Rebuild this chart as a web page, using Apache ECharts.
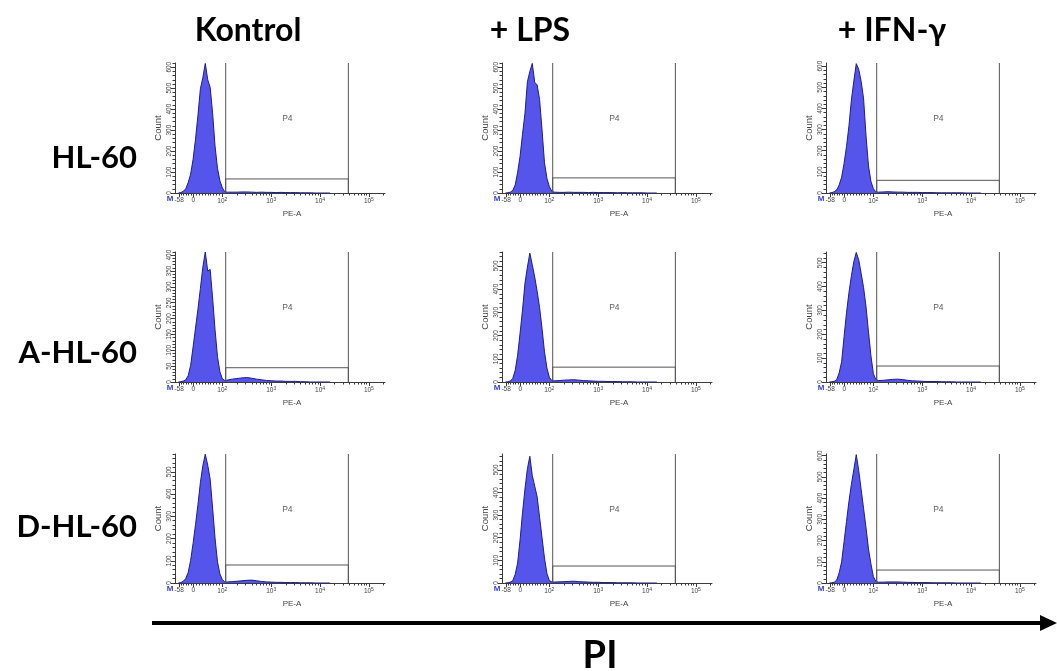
<!DOCTYPE html>
<html><head><meta charset="utf-8">
<script src="https://cdn.jsdelivr.net/npm/echarts@6/dist/echarts.min.js"></script>
<style>html,body{margin:0;padding:0;background:#fff}#c{width:1057px;height:671px}</style>
</head><body><div id="c"></div>
<script>
// ---------------- DATA ----------------
const colLabels = ['Kontrol', '+ LPS', '+ IFN-γ'];
const rowLabels = ['HL-60', 'A-HL-60', 'D-HL-60'];
const axisTitle = 'PI';
const gateName = 'P4';
// histogram bin centres on the biexponential PE-A display scale (decades)
const binPos = [1.10,1.15,1.20,1.25,1.30,1.35,1.40,1.45,1.50,1.55,1.60,1.65,1.70,1.75,1.80,1.85,1.90,1.95,2.00,2.05,2.10,
                2.2,2.3,2.4,2.5,2.6,2.7,2.8,2.9,3.0,3.1,3.2,3.3,3.4,3.5,3.6,3.7,3.8,3.9,4.0,4.1,4.2];
// counts per bin
const hl60_kontrol  = [0,2,8,20,50,90,160,257,371,497,550,618,540,504,381,224,118,58,24,6,4, 4,4,5,5,4,3,4,3,3,2,3,2,2,2,1,1,1,0,0,0,0];
const hl60_lps      = [0,1,4,12,38,98,175,280,380,530,580,618,528,515,445,300,144,70,30,8,4, 3,3,4,3,3,3,2,3,2,2,2,2,1,2,1,1,1,1,0,0,0];
const hl60_ifn      = [0,2,6,15,38,75,140,220,318,440,530,612,585,528,445,270,128,55,20,6,4, 5,6,5,4,4,3,3,3,2,2,2,1,1,1,1,1,1,0,0,0,0];
const ahl60_kontrol = [0,1,3,7,20,52,110,170,230,295,362,410,350,355,265,165,80,32,10,5,6, 9,11,13,14,12,9,7,5,4,3,3,2,2,2,1,1,0,0,0,0,0];
const ahl60_lps     = [0,1,4,15,50,115,210,310,425,495,555,505,452,390,320,230,130,60,20,6,5, 6,8,9,10,8,6,5,4,3,3,2,2,2,1,1,1,0,0,0,0,0];
const ahl60_ifn     = [0,1,3,10,38,85,190,290,375,445,505,543,512,455,395,315,210,110,35,10,6, 7,9,11,12,10,7,5,4,3,2,2,2,1,1,1,0,0,0,0,0,0];
const dhl60_kontrol = [0,2,8,20,47,101,178,262,353,452,527,579,530,467,337,202,95,40,15,5,5, 6,8,10,12,13,10,7,5,4,3,3,2,2,2,1,1,1,0,0,0,0];
const dhl60_lps     = [0,1,4,10,38,88,190,310,415,505,560,475,428,380,290,200,110,42,10,5,4, 5,6,7,8,6,5,4,3,3,2,2,2,1,1,1,1,0,0,0,0,0];
const dhl60_ifn     = [0,1,4,14,48,100,195,290,385,465,535,605,530,440,350,260,160,90,30,8,4, 4,5,5,5,4,3,3,2,2,2,1,1,1,1,1,0,0,0,0,0,0];
const histograms = [[hl60_kontrol, hl60_lps, hl60_ifn],[ahl60_kontrol, ahl60_lps, ahl60_ifn],[dhl60_kontrol, dhl60_lps, dhl60_ifn]];
// count axis per panel
const yMax  = [[620,620,615],[410,560,545],[580,570,608]];
const yStep = [[100,100,100],[50,100,100],[100,100,100]];
// P4 gate (PE-A values) and its drawn height (count)
const gateLow = 117, gateHigh = 38000;
const gateHeight = [[67,72,60],[45,64,67],[81,75,61]];
// PE-A tick labels
const xTickValues = [-58, 0, 100, 1000, 10000, 100000];
const xTickBase   = ['-58', '0', '10', '10', '10', '10'];
const xTickExp    = ['', '', '2', '3', '4', '5'];
const xMinorValues = [-50,-40,-30,-20,-10,10,20,30,40,50,60,70,80,90,
  200,300,400,500,600,700,800,900,2000,3000,4000,5000,6000,7000,8000,9000,
  20000,30000,40000,50000,60000,70000,80000,90000,200000];

// biexponential display transform of PE-A
function toDisp(v){
  if (v >= 100) return Math.log10(v);
  if (v >= 0) return 1.405 + v * 0.00595;
  return 1.405 + v * 0.005;
}

// ---------------- LAYOUT ----------------
const colLeft = [175, 502, 826];
const rowTop = [63, 252, 454];
const rowH = [130, 130, 129];
const plotW = 210;
const xMin = 1.03, xMax = 5.33;
const fillColor = '#5555ec', edgeColor = '#1d1d8a', axisColor = '#3a3a3a';
const smallFont = 'Liberation Sans';

const grids = [], xAxes = [], yAxes = [], series = [], graphics = [];
const majorX = xTickValues.map(toDisp);
const minorX = xMinorValues.map(toDisp);

for (let r = 0; r < 3; r++) {
  for (let c = 0; c < 3; c++) {
    const g = grids.length;
    grids.push({left: colLeft[c], top: rowTop[r], width: plotW, height: rowH[r]});
    const ym = yMax[r][c], st = yStep[r][c];
    const yMajor = [], yMinor = [];
    for (let v = 0; v <= ym; v += st) yMajor.push(v);
    for (let v = st/5; v <= ym; v += st/5) if (Math.abs(v/st - Math.round(v/st)) > 1e-6) yMinor.push(v);

    xAxes.push({
      gridIndex: g, type: 'value', min: xMin, max: xMax, position: 'bottom',
      axisLine: {show: true, lineStyle: {color: axisColor, width: 1}},
      axisTick: {show: true, customValues: majorX, length: 4, lineStyle: {color: axisColor}},
      splitLine: {show: false},
      axisLabel: {
        show: true, customValues: majorX, margin: 4, color: '#444', fontFamily: smallFont, fontSize: 6.5,
        formatter: function (val) {
          let best = 0, bd = 1e9;
          majorX.forEach((m, i) => { const d = Math.abs(m - val); if (d < bd) { bd = d; best = i; } });
          return xTickExp[best] ? xTickBase[best] + '{s|' + xTickExp[best] + '}' : xTickBase[best];
        },
        rich: {s: {fontSize: 5, fontFamily: smallFont, color: '#444', verticalAlign: 'top', padding: [0, 0, 4, 0]}}
      },
      name: 'PE-A', nameLocation: 'middle', nameGap: 17,
      nameTextStyle: {fontFamily: smallFont, fontSize: 8, color: '#444', padding: [0, 0, 0, 24]}
    });
    xAxes.push({
      gridIndex: g, type: 'value', min: xMin, max: xMax, position: 'bottom',
      axisLine: {show: false},
      axisTick: {show: true, customValues: minorX, length: 2.5, lineStyle: {color: axisColor}},
      axisLabel: {show: false}, splitLine: {show: false}
    });
    yAxes.push({
      gridIndex: g, type: 'value', min: 0, max: ym, position: 'left',
      axisLine: {show: true, lineStyle: {color: axisColor, width: 1}},
      axisTick: {show: true, customValues: yMajor, length: 4, lineStyle: {color: axisColor}},
      axisLabel: {show: true, customValues: yMajor, rotate: 90, margin: 2, fontFamily: smallFont, fontSize: 6.5, color: '#444'},
      splitLine: {show: false},
      name: 'Count', nameLocation: 'middle', nameGap: 12,
      nameTextStyle: {fontFamily: smallFont, fontSize: 9.5, color: '#444'}
    });
    yAxes.push({
      gridIndex: g, type: 'value', min: 0, max: ym, position: 'left',
      axisLine: {show: false},
      axisTick: {show: true, customValues: yMinor, length: 2.5, lineStyle: {color: axisColor}},
      axisLabel: {show: false}, splitLine: {show: false}
    });
    const xi = 2 * g, yi = 2 * g;
    const hist = histograms[r][c];
    series.push({
      type: 'line', xAxisIndex: xi, yAxisIndex: yi, silent: true,
      data: binPos.map((d, k) => [d, hist[k]]),
      showSymbol: false, symbol: 'none',
      lineStyle: {color: edgeColor, width: 1},
      areaStyle: {color: fillColor, opacity: 1}
    });
    const L = toDisp(gateLow), R = toDisp(gateHigh), h = gateHeight[r][c];
    series.push({
      type: 'line', xAxisIndex: xi, yAxisIndex: yi, silent: true, symbol: 'none',
      data: [[L, ym], [L, 0], [L, h], [R, h], [R, 0], [R, ym]],
      lineStyle: {color: '#555', width: 1}
    });
    series.push({
      type: 'scatter', xAxisIndex: xi, yAxisIndex: yi, silent: true, symbolSize: 1,
      itemStyle: {color: 'rgba(0,0,0,0)'},
      data: [[3.33, ym * 0.57]],
      label: {show: true, position: 'inside', formatter: gateName, fontFamily: smallFont, fontSize: 8.5, color: '#333'}
    });
    graphics.push({type: 'text', x: colLeft[c] - 5, y: rowTop[r] + rowH[r] + 6,
      style: {text: 'M', fill: '#3344cc', font: 'bold 8px Liberation Sans', align: 'center', verticalAlign: 'middle', textAlign: 'center', textVerticalAlign: 'middle'}});
  }
}

const colCenter = [248, 530, 892];
colLabels.forEach((t, i) => graphics.push({type: 'text', x: colCenter[i], y: 31,
  style: {text: t, fill: '#000', font: 'bold 32px Lato', align: 'center', verticalAlign: 'middle', textAlign: 'center', textVerticalAlign: 'middle'}}));
const rowCenter = [158, 353, 527];
rowLabels.forEach((t, i) => graphics.push({type: 'text', x: 137, y: rowCenter[i],
  style: {text: t, fill: '#000', font: 'bold 31px Lato', align: 'right', verticalAlign: 'middle', textAlign: 'right', textVerticalAlign: 'middle'}}));
graphics.push({type: 'line', shape: {x1: 152, y1: 623, x2: 1044, y2: 623}, style: {stroke: '#000', lineWidth: 4}});
graphics.push({type: 'polygon', shape: {points: [[1040, 615], [1057, 623], [1040, 631]]}, style: {fill: '#000'}});
graphics.push({type: 'text', x: 600, y: 656,
  style: {text: axisTitle, fill: '#000', font: 'bold 38px Lato', align: 'center', verticalAlign: 'middle', textAlign: 'center', textVerticalAlign: 'middle'}});

const chart = echarts.init(document.getElementById('c'), null, {renderer: 'canvas'});
chart.setOption({
  animation: false, backgroundColor: '#fff',
  grid: grids, xAxis: xAxes, yAxis: yAxes, series: series, graphic: graphics
});
</script></body></html>
